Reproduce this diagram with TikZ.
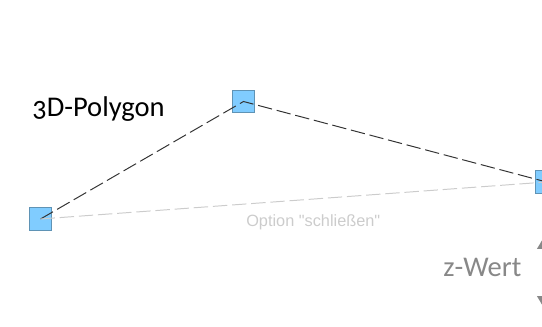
\documentclass[tikz,border=0pt]{standalone}
\usepackage{fontspec}
\setmainfont{Carlito}[Numbers=OldStyle]
\newfontfamily\arialfont{Liberation Sans}
\usepackage{tikz}
\usetikzlibrary{arrows.meta}

\definecolor{punktblau}{HTML}{80CCFF}
\definecolor{punktrand}{HTML}{5F93B5}
\definecolor{kante}{HTML}{333333}
\definecolor{schliessen}{HTML}{CCCCCC}
\definecolor{zgrau}{HTML}{888888}

\tikzset{
	punkt/.style={draw=punktrand, fill=punktblau, line width=0.5pt, minimum size=0.56cm, inner sep=0pt},
	kantenlinie/.style={draw=kante, line width=0.7pt, dash pattern=on 0.36cm off 0.12cm},
	schliesslinie/.style={draw=schliessen, line width=0.7pt, dash pattern=on 0.36cm off 0.12cm},
}

\begin{document}
\begin{tikzpicture}[x=0.025cm, y=-0.025cm]
		\useasboundingbox (0,0) rectangle (542,327);
		\clip (0,0) rectangle (542,327);
		%Punkte
		\node [punkt] (p1) at (40.5,219) {};
		\node [punkt] (p2) at (243.5,101.5) {};
		\node [punkt] (p3) at (546.5,182) {};
		%Kanten
		\draw [kantenlinie] (p1.center) -- (p2.center) -- (p3.center);
		\draw [schliesslinie] (p1.center) -- (p3.center);
		%Texte
		\node [anchor=base west, inner sep=0pt, font=\fontsize{20.3}{24}\selectfont] (titel) at (32,117) {3D-Polygon};
		\node [anchor=base west, inner sep=0pt, text=schliessen, font=\arialfont\fontsize{11.6}{14}\selectfont] (option) at (246,227) {Option "schließen"};
		\node [anchor=base west, inner sep=0pt, text=zgrau, font=\fontsize{20.3}{24}\selectfont] (zwert) at (443,277) {z-Wert};
		%z-Pfeil
		\coordinate (zoben) at (547,232);
		\coordinate (zunten) at (547,313);
		\draw [zgrau, line width=1.2pt, {Triangle[width=14pt,length=12pt]}-{Triangle[width=14pt,length=12pt]}] (zoben) -- (zunten);
	\end{tikzpicture}
\end{document}
